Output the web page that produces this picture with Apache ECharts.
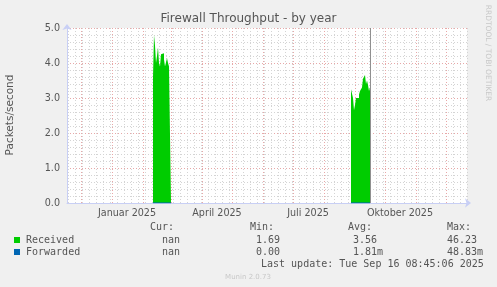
<!DOCTYPE html>
<html><head><meta charset="utf-8">
<script src="https://cdn.jsdelivr.net/npm/echarts@6/dist/echarts.min.js"></script>
<style>html,body{margin:0;padding:0;background:#f0f0f0}#c{width:497px;height:287px}</style>
</head><body><div id="c"></div>
<script>
// ---- data ----
const rangeStart = '2024-11-17';
const rangeEnd = '2025-12-22';
const lastUpdate = '2025-09-16T08:45:06';
const receivedBlock1Start = '2025-02-11';
const receivedBlock1 = [3.6, 4.8, 4.5, 4.0, 4.2, 4.45, 4.0, 3.9, 4.25, 4.2, 4.28, 4.1, 3.9, 3.95, 4.14, 4.0, 3.9, 3.85];
const receivedBlock2Start = '2025-08-28';
const receivedBlock2 = [3.25, 3.3, 3.0, 2.65, 2.8, 3.0, 3.05, 3.0, 3.1, 3.2, 3.15, 3.3, 3.55, 3.6, 3.66, 3.4, 3.5, 3.37, 3.2, 3.3];
const forwardedBlock1 = [0.002, 0.003, 0.002, 0.001, 0.002, 0.002, 0.003, 0.002, 0.001, 0.002, 0.002, 0.002, 0.001, 0.002, 0.002, 0.003, 0.002, 0.002];
const forwardedBlock2 = [0.002, 0.001, 0.002, 0.002, 0.001, 0.002, 0.002, 0.003, 0.002, 0.001, 0.002, 0.002, 0.002, 0.001, 0.002, 0.002, 0.001, 0.002, 0.002, 0.002];
const xTickDates = ['2025-01-16', '2025-04-16', '2025-07-16', '2025-10-16'];
const xTickLabels = ['Januar 2025', 'April 2025', 'Juli 2025', 'Oktober 2025'];
const seriesNames = ['Received', 'Forwarded'];
const seriesColors = ['#00cc00', '#0066b3'];
const legendHeaders = ['Cur:', 'Min:', 'Avg:', 'Max:'];
const legendCur = ['nan', 'nan'];
const legendMin = ['1.69', '0.00'];
const legendAvg = ['3.56', '1.81m'];
const legendMax = ['46.23', '48.83m'];
const titleText = 'Firewall Throughput - by year';
const yAxisName = 'Packets/second';
const lastUpdateText = 'Last update: Tue Sep 16 08:45:06 2025';
const footerText = 'Munin 2.0.73';
const sideText = 'RRDTOOL / TOBI OETIKER';

// ---- helpers ----
const DAY = 86400000;
const ts = s => Date.parse(s.length > 10 ? s + 'Z' : s + 'T00:00:00Z');
function blockData(start, vals) {
  const t0 = ts(start);
  return vals.map((v, i) => [t0 + i * DAY, v]);
}
const recData = blockData(receivedBlock1Start, receivedBlock1).concat([[ts(receivedBlock1Start) + receivedBlock1.length * DAY, null]], blockData(receivedBlock2Start, receivedBlock2));
const fwdData = blockData(receivedBlock1Start, forwardedBlock1).concat([[ts(receivedBlock1Start) + forwardedBlock1.length * DAY, null]], blockData(receivedBlock2Start, forwardedBlock2));

// grid lines: month starts (major) and Mondays (minor)
const monthLines = [];
const monthSet = new Set();
{
  const s = new Date(ts(rangeStart)), e = ts(rangeEnd);
  let y = s.getUTCFullYear(), m = s.getUTCMonth() + 1;
  while (true) {
    const t = Date.UTC(y, m, 1);
    if (t > e) break;
    monthLines.push({ xAxis: t });
    monthSet.add(t);
    m++; if (m > 11) { m = 0; y++; }
  }
}
const weekLines = [];
{
  let t = ts(rangeStart);
  while (new Date(t).getUTCDay() !== 1) t += DAY;
  for (; t <= ts(rangeEnd); t += 7 * DAY) if (!monthSet.has(t)) weekLines.push({ xAxis: t });
}

const xTickVals = xTickDates.map(ts);
const axisCol = '#c8cff5';
const txt = '#555555';
const sans = 'DejaVu Sans';
const mono = 'DejaVu Sans Mono';

const graphic = [];
function T(x, y, text, opt) {
  graphic.push(Object.assign({ type: 'text', x: x, y: y, silent: true,
    style: Object.assign({ text: text, fill: txt, font: '10px "' + mono + '"', textVerticalAlign: 'middle' }, opt || {}) }));
}
T(248.5, 19, titleText, { font: '12px "' + sans + '"', textAlign: 'center' });
graphic.push({ type: 'text', x: 10, y: 115, rotation: Math.PI / 2, silent: true,
  style: { text: yAxisName, fill: txt, font: '10.5px "' + sans + '"', textAlign: 'center', textVerticalAlign: 'middle' } });
graphic.push({ type: 'text', x: 488, y: 53, rotation: -Math.PI / 2, silent: true,
  style: { text: sideText, fill: '#c8c8c8', font: '7.5px "' + sans + '"', textAlign: 'center', textVerticalAlign: 'middle' } });
const colX = [150, 250, 348, 447];
legendHeaders.forEach((h, i) => T(colX[i], 227, h));
const valX = [[162, 256, 353, 447], [162, 256, 353, 447]];
const rowY = [240, 252];
seriesNames.forEach((n, i) => {
  graphic.push({ type: 'rect', silent: true, shape: { x: 14, y: rowY[i] - 3, width: 6, height: 6 }, style: { fill: seriesColors[i] } });
  T(26, rowY[i], n);
  T(valX[i][0], rowY[i], legendCur[i]);
  T(valX[i][1], rowY[i], legendMin[i]);
  T(valX[i][2], rowY[i], legendAvg[i]);
  T(valX[i][3], rowY[i], legendMax[i]);
});
T(261, 264, lastUpdateText);
T(248, 277, footerText, { fill: '#c8c8c8', font: '7px "' + sans + '"', textAlign: 'center' });

const chart = echarts.init(document.getElementById('c'), null, { renderer: 'canvas' });
chart.setOption({
  animation: false,
  backgroundColor: '#f0f0f0',
  grid: { left: 67, right: 30, top: 28, bottom: 84, containLabel: false, show: true, backgroundColor: '#ffffff', borderWidth: 0 },
  xAxis: {
    type: 'value', min: ts(rangeStart), max: ts(rangeEnd),
    axisLine: { show: true, lineStyle: { color: axisCol, width: 1 }, symbol: ['none', 'arrow'], symbolSize: [7, 6], symbolOffset: [0, 4] },
    axisTick: { show: false },
    splitLine: { show: false },
    axisLabel: {
      customValues: xTickVals, margin: 5, color: txt, fontFamily: sans, fontSize: 9.6, hideOverlap: false,
      formatter: v => { const i = xTickVals.indexOf(v); return i >= 0 ? xTickLabels[i] : ''; }
    }
  },
  yAxis: {
    type: 'value', min: 0, max: 5, interval: 1,
    axisLine: { show: true, lineStyle: { color: axisCol, width: 1 }, symbol: ['none', 'arrow'], symbolSize: [7, 6], symbolOffset: [0, 4] },
    axisTick: { show: false },
    axisLabel: { color: txt, fontFamily: sans, fontSize: 9.6, margin: 7, formatter: v => v.toFixed(1) },
    splitLine: { show: true, lineStyle: { color: '#e8a8a8', type: [1, 2], width: 1 } },
    minorTick: { show: false, splitNumber: 5 },
    minorSplitLine: { show: true, lineStyle: { color: '#d4d4d4', type: [1, 2], width: 1 } }
  },
  series: [
    { type: 'line', name: 'weekgrid', data: [], z: 1, silent: true,
      markLine: { z: 0, silent: true, symbol: 'none', animation: false, label: { show: false },
        lineStyle: { color: '#d4d4d4', type: [1, 2], width: 1 }, data: weekLines } },
    { type: 'line', name: 'monthgrid', data: [], z: 1, silent: true,
      markLine: { z: 0, silent: true, symbol: 'none', animation: false, label: { show: false },
        lineStyle: { color: '#e8a8a8', type: [1, 2], width: 1 }, data: monthLines } },
    { type: 'line', name: seriesNames[0], data: recData, z: 3, step: 'end', showSymbol: false, symbol: 'none', connectNulls: false,
      lineStyle: { width: 0, color: seriesColors[0] }, itemStyle: { color: seriesColors[0] },
      areaStyle: { color: seriesColors[0], opacity: 1 },
      markLine: { z: 6, silent: true, symbol: 'none', animation: false, label: { show: false },
        lineStyle: { color: '#909090', type: 'solid', width: 1 }, data: [{ xAxis: ts(lastUpdate) }] } },
    { type: 'line', name: seriesNames[1], data: fwdData, z: 4, step: 'end', showSymbol: false, symbol: 'none', connectNulls: false,
      lineStyle: { width: 1, color: seriesColors[1] }, itemStyle: { color: seriesColors[1] } }
  ],
  graphic: graphic
});
</script></body></html>
